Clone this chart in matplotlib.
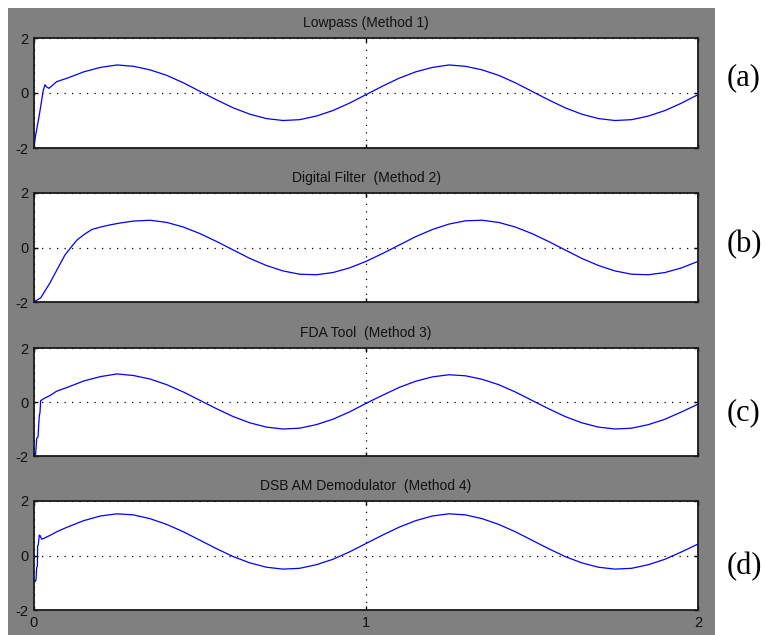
import numpy as np
import matplotlib
matplotlib.use("Agg")
import matplotlib.pyplot as plt
from matplotlib.patches import Rectangle

# shared time grid after the start-up transient (s)
t_tail = [0.10, 0.15, 0.20, 0.25, 0.30, 0.35, 0.40, 0.45, 0.50, 0.55,
          0.60, 0.65, 0.70, 0.75, 0.80, 0.85, 0.90, 0.95, 1.00, 1.05,
          1.10, 1.15, 1.20, 1.25, 1.30, 1.35, 1.40, 1.45, 1.50, 1.55,
          1.60, 1.65, 1.70, 1.75, 1.80, 1.85, 1.90, 1.95, 2.00]

# (a) lowpass
t_a_head = [0.0, 0.004, 0.010, 0.016, 0.022, 0.028, 0.033, 0.038, 0.045, 0.050, 0.068]
a_head = [-2.0, -1.6, -1.2, -0.8, -0.35, 0.1, 0.3, 0.22, 0.17, 0.22, 0.41]
a_tail = [0.54, 0.77, 0.93, 1.02, 0.97, 0.84, 0.64, 0.37, 0.06, -0.25,
          -0.54, -0.77, -0.93, -1.00, -0.97, -0.84, -0.64, -0.37, -0.06, 0.25,
          0.54, 0.77, 0.93, 1.02, 0.97, 0.84, 0.64, 0.37, 0.06, -0.25,
          -0.54, -0.77, -0.93, -1.00, -0.97, -0.84, -0.64, -0.37, -0.06]

# (b) digital filter: slow rise up to t = 0.30, then joins the tail grid at 0.35
t_b_head = [0.0, 0.02, 0.048, 0.07, 0.093, 0.113, 0.13, 0.149, 0.174,
            0.20, 0.229, 0.26, 0.30]
b_head = [-2.0, -1.85, -1.3, -0.8, -0.28, 0.03, 0.28, 0.46, 0.66,
          0.75, 0.83, 0.90, 0.97]
b_tail = [1.00, 0.92, 0.75, 0.51, 0.22,
          -0.09, -0.40, -0.66, -0.86, -0.98, -1.00, -0.92, -0.75, -0.51, -0.22,
          0.09, 0.40, 0.66, 0.86, 0.98, 1.00, 0.92, 0.75, 0.51, 0.22,
          -0.09, -0.40, -0.66, -0.86, -0.98, -1.00, -0.92, -0.75, -0.51]

# (c) FDA tool
t_c_head = [0.0, 0.005, 0.008, 0.012, 0.016, 0.018, 0.020, 0.033, 0.050, 0.068]
c_head = [-2.0, -1.93, -1.35, -1.3, -0.5, -0.4, 0.05, 0.15, 0.25, 0.40]
c_tail = [0.54, 0.78, 0.94, 1.04, 0.98, 0.85, 0.64, 0.37, 0.06, -0.25,
          -0.54, -0.77, -0.93, -1.00, -0.97, -0.84, -0.64, -0.37, -0.05, 0.25,
          0.54, 0.77, 0.93, 1.01, 0.97, 0.84, 0.64, 0.37, 0.06, -0.25,
          -0.54, -0.77, -0.93, -1.00, -0.97, -0.84, -0.64, -0.37, -0.08]

# (d) DSB AM demodulator
t_d_head = [0.0, 0.003, 0.006, 0.008, 0.010, 0.011, 0.013, 0.016, 0.019,
            0.023, 0.030, 0.050, 0.070]
d_head = [-0.96, -0.96, -0.9, -0.45, -0.4, 0.35, 0.4, 0.75, 0.72,
          0.60, 0.63, 0.75, 0.88]
d_tail = [1.04, 1.28, 1.45, 1.53, 1.49, 1.35, 1.14, 0.87, 0.56, 0.25,
          -0.04, -0.27, -0.43, -0.50, -0.47, -0.34, -0.14, 0.13, 0.44, 0.75,
          1.04, 1.28, 1.45, 1.53, 1.49, 1.35, 1.14, 0.87, 0.56, 0.25,
          -0.04, -0.27, -0.43, -0.50, -0.47, -0.34, -0.14, 0.13, 0.42]

titles = ["Lowpass (Method 1)", "Digital Filter  (Method 2)",
          "FDA Tool  (Method 3)", "DSB AM Demodulator  (Method 4)"]
tags = ["(a)", "(b)", "(c)", "(d)"]

series = [
    (t_a_head + t_tail, a_head + a_tail),
    (t_b_head + t_tail[5:], b_head + b_tail),
    (t_c_head + t_tail, c_head + c_tail),
    (t_d_head + t_tail, d_head + d_tail),
]

W, H = 765, 635
fig = plt.figure(figsize=(W / 100, H / 100), dpi=100, facecolor="white")
fig.patches.append(Rectangle((8 / W, 0), 707 / W, 627 / H, transform=fig.transFigure,
                             facecolor="#808080", edgecolor="none", zorder=-10))

# axes boxes in pixels: (top, bottom)
boxes = [(38, 148), (193, 302), (348, 456), (501, 610)]
tag_y = [78, 245, 413, 567]
left, right = 34, 698
txt = "#111111"

for i, ((top, bot), (t, y)) in enumerate(zip(boxes, series)):
    ax = fig.add_axes([left / W, 1 - bot / H, (right - left) / W, (bot - top) / H])
    ax.plot(t, y, color="#0000ff", lw=0.9)
    ax.set_xlim(0, 2)
    ax.set_ylim(-2, 2)
    ax.set_xticks([0, 1, 2])
    ax.set_yticks([-2, 0, 2])
    ax.grid(True, color="black", linestyle=(0, (1, 5)), lw=0.9)
    ax.tick_params(direction="in", length=3, width=1, top=True, right=True,
                   labelsize=10.5, labelcolor=txt, pad=4)
    ax.set_yticklabels(["-2", "0", "2"], fontfamily="Liberation Sans")
    if i < 3:
        ax.set_xticklabels([])
    else:
        ax.set_xticklabels(["0", "1", "2"], fontfamily="Liberation Sans")
    for s in ax.spines.values():
        s.set_linewidth(1.3)
        s.set_color("#1a1a1a")
    ax.set_title(titles[i], fontsize=10, fontfamily="Liberation Sans", color=txt, pad=8)
    fig.text(744 / W, 1 - tag_y[i] / H, tags[i], fontsize=22, fontfamily="Liberation Serif",
             ha="center", va="center", color="black")

fig.savefig("out.png", dpi=100, facecolor="white")
